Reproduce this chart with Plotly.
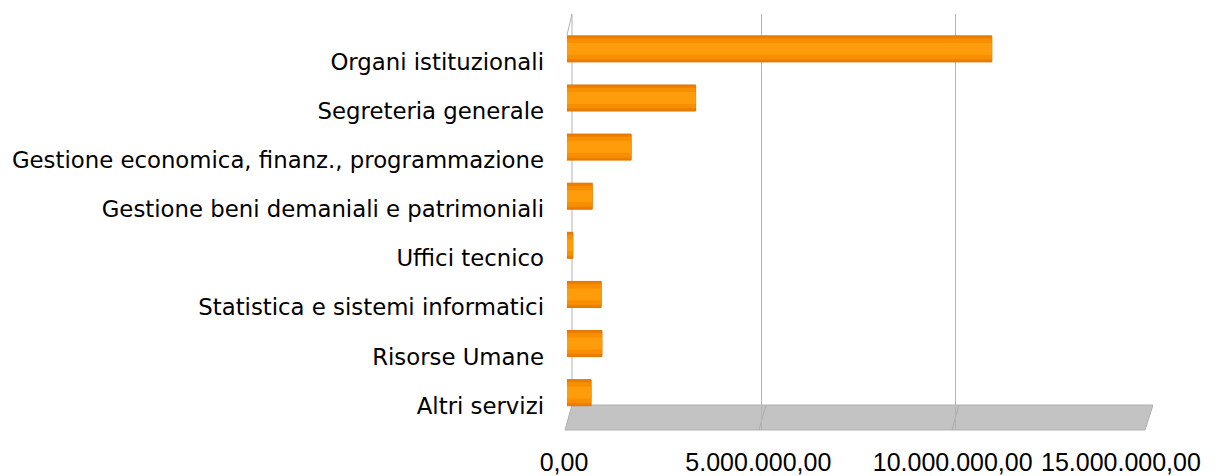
import plotly.graph_objects as go

categories = [
    "Organi istituzionali",
    "Segreteria generale",
    "Gestione economica, finanz., programmazione",
    "Gestione beni demaniali e patrimoniali",
    "Uffici tecnico",
    "Statistica e sistemi informatici",
    "Risorse Umane",
    "Altri servizi",
]
values = [10930000, 3310000, 1650000, 650000, 150000, 880000, 900000, 620000]
tick_vals = [0, 5000000, 10000000, 15000000]
tick_text = ["0,00", "5.000.000,00", "10.000.000,00", "15.000.000,00"]

# the page body adds an 8px offset, so the figure is 8px smaller
OFF = 8
W, H = 1230 - OFF, 476 - OFF
L, T = 567 - OFF, 14 - OFF
PW, PH = 583, 416
R, B = W - L - PW, H - T - PH


def px(x):
    return (x - OFF - L) / PW


def py(y):
    return (T + PH - (y - OFF)) / PH


fig = go.Figure()
# layered bars give a cylinder-like shading
for w, col, line in [(0.53, "#EC7F00", dict(color="#E07400", width=1)),
                     (0.42, "#F88F00", dict(width=0)),
                     (0.24, "#FF9C0C", dict(width=0))]:
    fig.add_trace(go.Bar(
        y=categories, x=values, orientation="h", width=w,
        marker=dict(color=col, line=line),
        hoverinfo="skip", showlegend=False,
    ))

shapes = []
# floor
floor_path = "M {} {} L {} {} L {} {} L {} {} Z".format(
    px(572), py(405), px(1153), py(405), px(1145), py(430), px(565), py(430))
shapes.append(dict(type="path", path=floor_path, xref="paper", yref="paper",
                   fillcolor="#C3C3C3", line=dict(color="#B0B0B0", width=1),
                   layer="between"))
# slanted floor grid lines
for xt, xb in [(766, 759), (959, 952)]:
    shapes.append(dict(type="line", xref="paper", yref="paper",
                       x0=px(xt), y0=py(405), x1=px(xb), y1=py(430),
                       line=dict(color="#ABABAB", width=1), layer="between"))
# left wall
shapes.append(dict(type="line", xref="paper", yref="paper",
                   x0=px(567), y0=py(35), x1=px(572), y1=py(14),
                   line=dict(color="#B3B3B3", width=1), layer="below"))
shapes.append(dict(type="line", xref="paper", yref="paper",
                   x0=px(572), y0=py(14), x1=px(572), y1=py(405),
                   line=dict(color="#B3B3B3", width=1), layer="below"))

tick_font = dict(family="Liberation Sans", size=25, color="#000000")

# last tick label is pulled left so that it stays inside the picture
annotations = [dict(
    x=tick_vals[-1], xref="x", y=0, yref="paper",
    text=tick_text[-1], showarrow=False, font=tick_font,
    xanchor="center", yanchor="middle", xshift=-29, yshift=-32,
)]

fig.update_layout(
    template="none",
    width=W, height=H,
    margin=dict(l=L, r=R, t=T, b=B, pad=0, autoexpand=False),
    paper_bgcolor="white", plot_bgcolor="white",
    barmode="overlay",
    separators=",.",
    shapes=shapes,
    annotations=annotations,
    xaxis=dict(
        range=[0, 15000100], tickvals=tick_vals,
        ticktext=tick_text[:-1] + [""],
        showgrid=True, gridcolor="#B3B3B3", gridwidth=1,
        zeroline=False, showline=False, ticks="",
        ticklabelstandoff=15, ticklabelshift=-3, automargin=False,
        tickfont=tick_font,
        fixedrange=True,
    ),
    yaxis=dict(
        categoryorder="array", categoryarray=categories,
        range=[7.76, -0.71],
        showgrid=False, zeroline=False, showline=False, ticks="",
        ticklabelstandoff=22, ticklabelshift=-13, automargin=False,
        tickfont=dict(family="DejaVu Sans", size=22.8, color="#000000"),
        fixedrange=True,
    ),
)

fig.write_html("out.html")
